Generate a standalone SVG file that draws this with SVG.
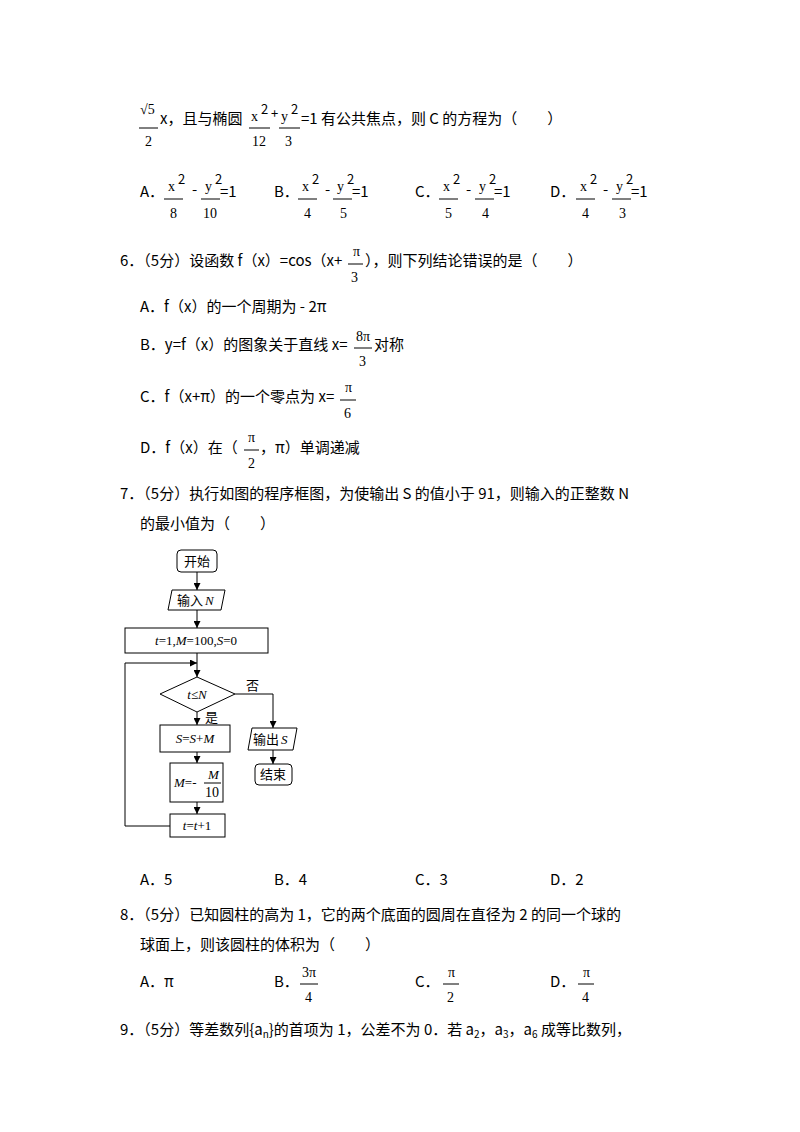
<svg xmlns="http://www.w3.org/2000/svg" width="800" height="1132" viewBox="0 0 800 1132">
<defs>
<style>
text{font-family:"Noto Sans CJK SC","Noto Sans",sans-serif;font-size:15px;fill:#000}
.m{font-family:"Liberation Serif",serif;font-size:14px}
.i{font-family:"Liberation Serif",serif;font-style:italic;font-size:13px}
.s{font-size:13px}
.b{fill:none;stroke:#000;stroke-width:1}
.c{fill:none;stroke:#000;stroke-width:1}
.bar{stroke:#000;stroke-width:1}
</style>
<marker id="ar" viewBox="0 0 10 10" refX="10" refY="5" markerWidth="7" markerHeight="7" orient="auto"><path d="M0,0L10,5L0,10z" fill="#000"/></marker>
</defs>
<rect width="800" height="1132" fill="#fff"/>

<text x="140" y="114" class="m">√5</text><line class="bar" x1="139" y1="128" x2="158" y2="128"/><text x="145" y="146" class="m">2</text>
<text x="160" y="124">x，且与椭圆</text>
<text x="251" y="121" class="m">x</text><text x="261" y="114" class="s">2</text><text x="271" y="118" class="s">+</text>
<line class="bar" x1="249" y1="128" x2="270" y2="128"/><text x="252" y="146" class="m">12</text>
<text x="281" y="121" class="m">y</text><text x="291" y="114" class="s">2</text>
<line class="bar" x1="279" y1="128" x2="300" y2="128"/><text x="285" y="146" class="m">3</text>
<text x="301" y="124">=1 有公共焦点，则 C 的方程为（　　）</text>

<g>
<text x="140" y="197">A．</text>
<text x="168" y="191" class="m">x</text><text x="178" y="184" class="s">2</text><line class="bar" x1="164" y1="199" x2="183" y2="199"/><text x="170" y="218" class="m">8</text>
<text x="192" y="195">-</text>
<text x="205" y="191" class="m">y</text><text x="215" y="184" class="s">2</text><line class="bar" x1="201" y1="199" x2="220" y2="199"/><text x="203" y="218" class="m">10</text>
<text x="220" y="197">=1</text>
</g>
<g>
<text x="274" y="197">B．</text>
<text x="302" y="191" class="m">x</text><text x="312" y="184" class="s">2</text><line class="bar" x1="298" y1="199" x2="317" y2="199"/><text x="304" y="218" class="m">4</text>
<text x="325" y="195">-</text>
<text x="337" y="191" class="m">y</text><text x="347" y="184" class="s">2</text><line class="bar" x1="333" y1="199" x2="352" y2="199"/><text x="340" y="218" class="m">5</text>
<text x="352" y="197">=1</text>
</g>
<g>
<text x="415" y="197">C．</text>
<text x="443" y="191" class="m">x</text><text x="453" y="184" class="s">2</text><line class="bar" x1="439" y1="199" x2="458" y2="199"/><text x="445" y="218" class="m">5</text>
<text x="466" y="195">-</text>
<text x="479" y="191" class="m">y</text><text x="489" y="184" class="s">2</text><line class="bar" x1="475" y1="199" x2="494" y2="199"/><text x="482" y="218" class="m">4</text>
<text x="494" y="197">=1</text>
</g>
<g>
<text x="550" y="197">D．</text>
<text x="580" y="191" class="m">x</text><text x="590" y="184" class="s">2</text><line class="bar" x1="576" y1="199" x2="595" y2="199"/><text x="582" y="218" class="m">4</text>
<text x="603" y="195">-</text>
<text x="616" y="191" class="m">y</text><text x="626" y="184" class="s">2</text><line class="bar" x1="612" y1="199" x2="631" y2="199"/><text x="619" y="218" class="m">3</text>
<text x="631" y="197">=1</text>
</g>

<text x="120" y="266">6．（5分）设函数 f（x）=cos（x+</text>
<text x="353" y="256" class="m">π</text><line class="bar" x1="348" y1="264" x2="363" y2="264"/><text x="351" y="282" class="m">3</text>
<text x="365" y="266">），则下列结论错误的是（　　）</text>
<text x="140" y="312">A．f（x）的一个周期为 - 2π</text>
<text x="140" y="350">B．y=f（x）的图象关于直线 x=</text>
<text x="356" y="341" class="m">8π</text><line class="bar" x1="354" y1="348" x2="372" y2="348"/><text x="359" y="366" class="m">3</text>
<text x="374" y="350">对称</text>
<text x="140" y="402">C．f（x+π）的一个零点为 x=</text>
<text x="345" y="392" class="m">π</text><line class="bar" x1="340" y1="400" x2="356" y2="400"/><text x="344" y="418" class="m">6</text>
<text x="140" y="453">D．f（x）在（</text>
<text x="248" y="442" class="m">π</text><line class="bar" x1="244" y1="450" x2="259" y2="450"/><text x="248" y="468" class="m">2</text>
<text x="260" y="453">，π）单调递减</text>

<text x="120" y="499">7．（5分）执行如图的程序框图，为使输出 S 的值小于 91，则输入的正整数 N</text>
<text x="140" y="529">的最小值为（　　）</text>

<g id="start"><rect class="b" x="177" y="550" width="40" height="22" rx="4"/><text x="197" y="566" text-anchor="middle" class="s">开始</text></g>
<g id="input"><polygon class="b" points="172,590 225,590 221,610 168,610"/><text x="177" y="605" class="s">输入</text><text x="205" y="605" class="i">N</text></g>
<g id="init"><rect class="b" x="125" y="628" width="143" height="25"/><text x="196" y="645" text-anchor="middle" class="i">t<tspan font-style="normal">=1,</tspan>M<tspan font-style="normal">=100,</tspan>S<tspan font-style="normal">=0</tspan></text></g>
<g id="cond"><polygon class="b" points="197,677 235,694 197,712 160,694"/><text x="197" y="699" text-anchor="middle" class="i">t<tspan font-style="normal">≤</tspan>N</text></g>
<g id="sum"><rect class="b" x="160" y="725" width="70" height="27"/><text x="195" y="743" text-anchor="middle" class="i">S<tspan font-style="normal">=</tspan>S<tspan font-style="normal">+</tspan>M</text></g>
<g id="mupd"><rect class="b" x="170" y="763" width="53" height="39"/><text x="174" y="787" class="i">M<tspan font-style="normal">=-</tspan></text><text x="208" y="779" class="i">M</text><line class="bar" x1="204" y1="783" x2="221" y2="783"/><text x="205" y="797" class="m" font-size="12">10</text></g>
<g id="inc"><rect class="b" x="170" y="814" width="55" height="23"/><text x="197" y="830" text-anchor="middle" class="i">t<tspan font-style="normal">=</tspan>t<tspan font-style="normal">+1</tspan></text></g>
<g id="output"><polygon class="b" points="252,728 297,728 293,750 248,750"/><text x="253" y="744" class="s">输出</text><text x="281" y="744" class="i">S</text></g>
<g id="end"><rect class="b" x="255" y="764" width="37" height="21" rx="4"/><text x="273" y="779" text-anchor="middle" class="s">结束</text></g>
<g id="connectors">
<line class="c" x1="197" y1="572" x2="197" y2="590" marker-end="url(#ar)"/>
<line class="c" x1="197" y1="610" x2="197" y2="628" marker-end="url(#ar)"/>
<line class="c" x1="197" y1="653" x2="197" y2="677" marker-end="url(#ar)"/>
<line class="c" x1="197" y1="712" x2="197" y2="725" marker-end="url(#ar)"/>
<line class="c" x1="197" y1="752" x2="197" y2="763" marker-end="url(#ar)"/>
<line class="c" x1="197" y1="802" x2="197" y2="814" marker-end="url(#ar)"/>
<polyline class="c" points="170,826 125,826 125,663 197,663" marker-end="url(#ar)"/>
<polyline class="c" points="235,694 273,694 273,728" marker-end="url(#ar)"/>
<line class="c" x1="273" y1="750" x2="273" y2="764" marker-end="url(#ar)"/>
<text x="246" y="690" class="s">否</text>
<text x="205" y="722" class="s">是</text>
</g>

<text x="140" y="885">A．5</text><text x="274" y="885">B．4</text><text x="415" y="885">C．3</text><text x="550" y="885">D．2</text>

<text x="120" y="920">8．（5分）已知圆柱的高为 1，它的两个底面的圆周在直径为 2 的同一个球的</text>
<text x="140" y="950">球面上，则该圆柱的体积为（　　）</text>
<text x="140" y="987">A．π</text>
<text x="274" y="987">B．</text>
<text x="302" y="977" class="m">3π</text><line class="bar" x1="300" y1="984" x2="318" y2="984"/><text x="305" y="1002" class="m">4</text>
<text x="415" y="987">C．</text>
<text x="448" y="977" class="m">π</text><line class="bar" x1="443" y1="984" x2="459" y2="984"/><text x="447" y="1002" class="m">2</text>
<text x="550" y="987">D．</text>
<text x="583" y="977" class="m">π</text><line class="bar" x1="578" y1="984" x2="594" y2="984"/><text x="582" y="1002" class="m">4</text>

<text x="120" y="1035">9．（5分）等差数列{a<tspan font-size="10" dy="3">n</tspan><tspan dy="-3">}的首项为 1，公差不为 0．若 a</tspan><tspan font-size="10" dy="3">2</tspan><tspan dy="-3">，a</tspan><tspan font-size="10" dy="3">3</tspan><tspan dy="-3">，a</tspan><tspan font-size="10" dy="3">6</tspan><tspan dy="-3"> 成等比数列，</tspan></text>
</svg>
